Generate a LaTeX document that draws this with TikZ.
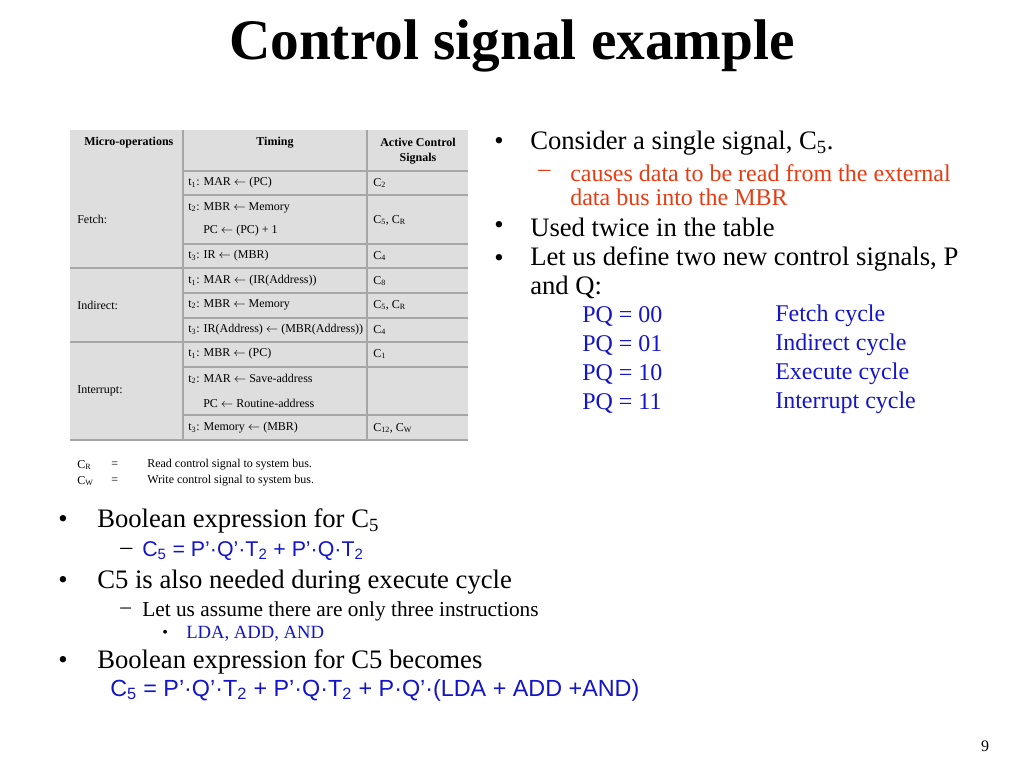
\documentclass[tikz,border=0pt]{standalone}
\usepackage{fontspec}
\setmainfont{Liberation Serif}
\setsansfont{Liberation Sans}
\usepackage{tikz}
\definecolor{txtblue}{RGB}{20,20,200}
\definecolor{txtred}{RGB}{230,60,20}
\definecolor{tabgray}{RGB}{222,222,222}
\newcommand{\sub}[1]{\textsubscript{#1}}
\tikzset{
  txt/.style={anchor=west,inner sep=0pt},
  big/.style={txt,font=\fontsize{20}{22}\selectfont},
  mid/.style={txt,font=\fontsize{18}{18}\selectfont},
  tab/.style={txt,font=\fontsize{9}{10}\selectfont},
  rule/.style={gray!70,line width=0.8pt}
}
\begin{document}
\begin{tikzpicture}[x=0.75pt,y=-0.75pt]
\useasboundingbox (0,0) rectangle (1024,768);

\node (title) at (512,46) {\fontsize{43}{46}\selectfont\bfseries Control signal example};

% table
\fill[tabgray] (70,130) rectangle (468,440);
\draw[rule] (183,130) -- (183,440);
\draw[rule] (367,130) -- (367,440);
\foreach \y in {171,195,244,293,318,367,415}
  \draw[rule] (183,\y) -- (468,\y);
\foreach \y in {268,342,440}
  \draw[rule] (70,\y) -- (468,\y);
\node[tab,font=\fontsize{9}{10}\selectfont\bfseries] (hmo) at (84,143) {Micro-operations};
\node[font=\fontsize{9}{10}\selectfont\bfseries] (htim) at (275,143) {Timing};
\node[font=\fontsize{9}{11}\selectfont\bfseries,align=center] (hsig) at (418,151) {Active Control\\Signals};
\node[tab] (fetch) at (77,219) {Fetch:};
\node[tab] (indir) at (77,305) {Indirect:};
\node[tab] (intr) at (77,391) {Interrupt:};
\node[tab] (f1) at (188,183) {t\sub{1}: MAR $\leftarrow$ (PC)};
\node[tab] (f2) at (188,208) {t\sub{2}: MBR $\leftarrow$ Memory};
\node[tab] (f2b) at (203,231) {PC $\leftarrow$ (PC) + 1};
\node[tab] (f3) at (188,256) {t\sub{3}: IR $\leftarrow$ (MBR)};
\node[tab] (i1) at (188,281) {t\sub{1}: MAR $\leftarrow$ (IR(Address))};
\node[tab] (i2) at (188,305) {t\sub{2}: MBR $\leftarrow$ Memory};
\node[tab] (i3) at (188,330) {t\sub{3}: IR(Address) $\leftarrow$ (MBR(Address))};
\node[tab] (n1) at (188,354) {t\sub{1}: MBR $\leftarrow$ (PC)};
\node[tab] (n2) at (188,379) {t\sub{2}: MAR $\leftarrow$ Save-address};
\node[tab] (n2b) at (203,403) {PC $\leftarrow$ Routine-address};
\node[tab] (n3) at (188,428) {t\sub{3}: Memory $\leftarrow$ (MBR)};
\node[tab] (cf1) at (373,183) {C\sub{2}};
\node[tab] (cf2) at (373,220) {C\sub{5}, C\sub{R}};
\node[tab] (cf3) at (373,256) {C\sub{4}};
\node[tab] (ci1) at (373,281) {C\sub{8}};
\node[tab] (ci2) at (373,305) {C\sub{5}, C\sub{R}};
\node[tab] (ci3) at (373,330) {C\sub{4}};
\node[tab] (cn1) at (373,354) {C\sub{1}};
\node[tab] (cn3) at (373,428) {C\sub{12}, C\sub{W}};
\node[tab] (crd) at (77,465) {C\sub{R}};
\node[tab] (cwr) at (77,481) {C\sub{W}};
\node[tab] (eq1) at (111,465) {=};
\node[tab] (eq2) at (111,481) {=};
\node[tab] (rd) at (147,465) {Read control signal to system bus.};
\node[tab] (wr) at (147,481) {Write control signal to system bus.};

% right column
\node[big] (b1d) at (494,143) {\textbullet};
\node[big] (b1) at (530,143) {Consider a single signal, C\sub{5}.};
\node[mid,text=txtred] (s1d) at (538,173) {--};
\node[mid,text=txtred,align=left] (s1) at (570,185) {causes data to be read from the external\\data bus into the MBR};
\node[big] (b2d) at (494,227) {\textbullet};
\node[big] (b2) at (530,227) {Used twice in the table};
\node[big] (b3d) at (494,260) {\textbullet};
\node[big,align=left] (b3) at (530,273) {Let us define two new control signals, P\\and Q:};
\foreach \y/\a/\b in {316/00/Fetch cycle,345/01/Indirect cycle,374/10/Execute cycle,403/11/Interrupt cycle}{
  \node[mid,text=txtblue] at (582,\y) {PQ = \a};
  \node[mid,text=txtblue] at (775,\y) {\b};
}

% lower block
\node[big] (l1d) at (58,521) {\textbullet};
\node[big] (l1) at (97,521) {Boolean expression for C\sub{5}};
\node[mid] (l2d) at (120,551) {--};
\node[mid,text=txtblue,font=\sffamily\fontsize{16}{16}\selectfont] (l2) at (142,551) {C\sub{5} = P'·Q'·T\sub{2} + P'·Q·T\sub{2}};
\node[big] (l3d) at (58,582) {\textbullet};
\node[big] (l3) at (97,582) {C5 is also needed during execute cycle};
\node[txt,font=\fontsize{16}{16}\selectfont] (l4d) at (120,611) {--};
\node[txt,font=\fontsize{16}{16}\selectfont] (l4) at (142,611) {Let us assume there are only three instructions};
\node[txt,font=\fontsize{12}{12}\selectfont] (l5d) at (162,634) {\textbullet};
\node[txt,font=\fontsize{14}{14}\selectfont,text=txtblue] (l5) at (186,634) {LDA, ADD, AND};
\node[big] (l6d) at (58,662) {\textbullet};
\node[big] (l6) at (97,662) {Boolean expression for C5 becomes};
\node[txt,font=\sffamily\fontsize{17.5}{18}\selectfont,text=txtblue] (l7) at (110,690) {C\sub{5} = P'·Q'·T\sub{2} + P'·Q·T\sub{2} + P·Q'·(LDA + ADD +AND)};

\node[font=\fontsize{12}{12}\selectfont] (page) at (985,746) {9};
\end{tikzpicture}
\end{document}
